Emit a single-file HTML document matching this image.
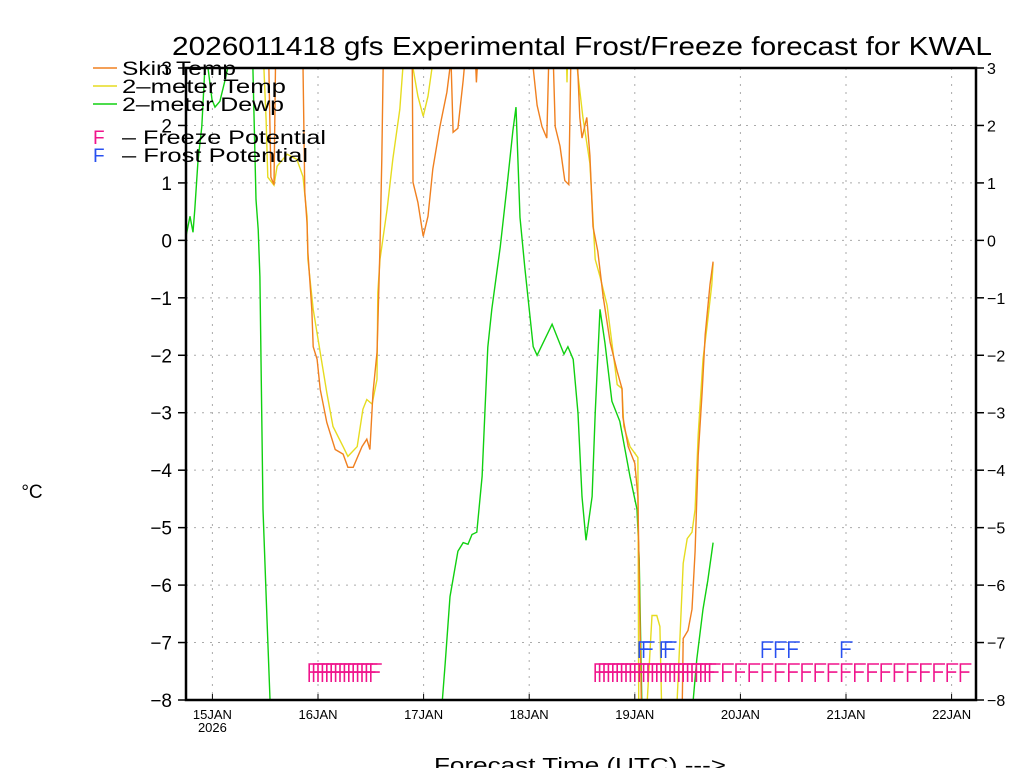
<!DOCTYPE html>
<html><head><meta charset="utf-8"><style>
html,body{margin:0;padding:0;background:#fff;width:1024px;height:768px;overflow:hidden}
svg{display:block;font-family:"Liberation Sans",sans-serif}
</style></head><body>
<svg id="chart" width="1024" height="768" viewBox="0 0 1024 768" xmlns="http://www.w3.org/2000/svg">
<defs><clipPath id="plotclip"><rect x="186" y="68" width="790" height="632"/></clipPath></defs>
<text x="172" y="55" font-size="26" textLength="820" lengthAdjust="spacingAndGlyphs" fill="#000">2026011418 gfs Experimental Frost/Freeze forecast for KWAL</text>
<g id="grid"></g>
<g id="series" clip-path="url(#plotclip)"></g>
<g id="flags"></g>
<g id="axes"></g>
<text x="32" y="498" font-size="19" text-anchor="middle">°C</text>
<text x="434" y="772" font-size="20" textLength="292" lengthAdjust="spacingAndGlyphs">Forecast Time (UTC) ---&gt;</text>
<g font-size="19">
<line x1="93" y1="68" x2="117" y2="68" stroke="#f08020" stroke-width="1.5"/>
<text x="122" y="75" textLength="114" lengthAdjust="spacingAndGlyphs">Skin Temp</text>
<line x1="93" y1="86" x2="117" y2="86" stroke="#e6dc20" stroke-width="1.5"/>
<text x="122" y="93" textLength="164" lengthAdjust="spacingAndGlyphs">2–meter Temp</text>
<line x1="93" y1="104" x2="117" y2="104" stroke="#10d010" stroke-width="1.5"/>
<text x="122" y="111" textLength="162" lengthAdjust="spacingAndGlyphs">2–meter Dewp</text>
<text x="93" y="144" fill="#f0148c">F</text>
<text x="122" y="144" textLength="204" lengthAdjust="spacingAndGlyphs">–  Freeze Potential</text>
<text x="93" y="162" fill="#2850f0">F</text>
<text x="122" y="162" textLength="186" lengthAdjust="spacingAndGlyphs">–  Frost Potential</text>
</g>
</svg>
<script>
const dayLabels = ["15JAN","16JAN","17JAN","18JAN","19JAN","20JAN","21JAN","22JAN"];
const dayHours = [6,30,54,78,102,126,150,174];
const yTicks = [3,2,1,0,-1,-2,-3,-4,-5,-6,-7,-8];
const skinHours = [0,18.6,19.3,20,20.5,26.4,27,27.5,27.7,28.6,28.9,29.8,30.5,32,33.9,35.7,36.8,38,40,41.1,41.8,42.5,43.4,43.6,44.1,44.5,45,50.9,51.4,51.6,52.7,53.9,55,56.1,57.7,59.3,60,60.2,60.7,61.8,63,63.6,65.7,66,66.4,78.4,78.9,79.8,80.9,82,82.5,83.4,83.9,85,86.1,87,87.5,88.9,89.5,90,91.1,91.8,92.5,93.6,94.8,96.4,98,99.1,99.3,100.5,102,102.7,103.2,103.6,112.7,113,114.1,115,115.7,116.4,117.3,118,119.1,119.8];
const skinVals = [4,4,1.10,0.97,4,4,0.84,0.31,-0.21,-1.20,-1.85,-2.07,-2.59,-3.17,-3.64,-3.72,-3.95,-3.95,-3.59,-3.46,-3.64,-2.65,-1.95,-1.50,-0.10,1.41,4,4,3.2,1.01,0.66,0.07,0.42,1.24,1.98,2.58,3.01,3.2,1.88,1.95,2.79,3.3,3.3,2.75,3.3,3.3,3.0,2.35,1.98,1.78,3.3,3.3,1.98,1.64,1.04,0.97,3.3,3.2,2.14,1.78,2.14,1.48,0.24,-0.19,-0.97,-1.78,-2.28,-2.58,-3.08,-3.59,-3.88,-4.46,-6.79,-8.5,-8.5,-6.93,-6.79,-6.42,-5.41,-3.74,-2.65,-1.64,-0.77,-0.37];
const t2mHours = [0,17.5,17.7,18.2,18.6,20,20.7,23,25.2,26.6,27.5,27.7,28.9,30.5,32,33.4,35.7,36.8,38.9,40.2,41.1,42.3,43.4,43.6,44.1,45.7,47,48.6,49.3,49.5,51.4,51.6,52.7,53.9,55,55.9,56.1,86.4,86.6,86.8,88.6,88.9,90.2,91.8,93,94.1,95.7,98,99.1,99.5,100.9,102.7,102.9,104.5,104.8,105.9,107,107.7,108.2,111.4,111.6,112.3,113,113.9,115,115.7,116.4,117.5,118.4,119.5,119.8];
const t2mVals = [4,4,3.0,2.1,1.10,0.96,1.29,1.50,1.41,1.11,0.42,-0.33,-1.20,-1.95,-2.65,-3.24,-3.59,-3.76,-3.59,-2.94,-2.77,-2.85,-2.42,-0.91,-0.33,0.54,1.41,2.28,3.01,3.4,3.4,3.0,2.51,2.16,2.51,3.0,3.4,3.4,2.75,3.4,3.4,3.0,2.14,1.34,-0.33,-0.63,-1.13,-2.51,-2.58,-3.24,-3.59,-3.78,-8.5,-8.5,-8.06,-6.53,-6.53,-6.72,-8.5,-8.5,-8.06,-6.86,-5.62,-5.19,-5.08,-4.68,-3.38,-2.07,-1.50,-0.77,-0.40];
const dewHours = [0,0.9,1.6,2,2.7,3.6,4.3,4.5,4.8,5,5.9,6.6,7.7,8.9,9.5,9.8,15,15.2,15.9,16.4,16.8,17.5,18.4,19.1,19.3,58,58.2,58.9,60,61.8,63,64.1,65,66.1,67.3,68,68.6,69.5,71.4,73,74.3,75,75.9,77,78.2,78.9,79.8,83.2,85.9,86.8,88,89.1,90,90.9,92.3,93,94.1,95.2,96.8,98.6,100.9,102.5,103,103.6,103.9,115,115.2,116.1,117.5,118.6,119.8];
const dewVals = [0.07,0.42,0.14,0.54,1.36,1.98,3.01,3.3,3.3,3.0,2.45,2.32,2.42,2.80,3.0,3.3,3.3,3.0,0.71,0.19,-0.63,-4.68,-6.60,-7.99,-8.5,-8.5,-8.06,-7.36,-6.20,-5.41,-5.26,-5.29,-5.12,-5.08,-4.11,-2.87,-1.86,-1.20,-0.12,0.97,1.91,2.32,0.40,-0.47,-1.34,-1.85,-2.00,-1.46,-1.98,-1.85,-2.07,-3.01,-4.46,-5.22,-4.46,-3.01,-1.20,-1.78,-2.80,-3.15,-4.11,-4.68,-5.55,-8.02,-8.5,-8.5,-8.06,-7.29,-6.42,-5.92,-5.26];
const freezeHours = [28,29,30,31,32,33,34,35,36,37,38,39,40,41,42,93,94,95,96,97,98,99,100,101,102,103,104,105,106,107,108,109,110,111,112,113,114,115,116,117,118,119,122,125,128,131,134,137,140,143,146,149,152,155,158,161,164,167,170,173,176];
const frostHours = [103,104,108,109,131,134,137,149];

const NS="http://www.w3.org/2000/svg";
const X0=186,X1=976,Y0=68,Y1=700,PXH=4.4;
function xs(h){return X0+h*PXH;}
function ys(v){return Y1-(v+8)*(Y1-Y0)/11;}
function mk(tag,attrs,parent){const e=document.createElementNS(NS,tag);for(const k in attrs)e.setAttribute(k,attrs[k]);parent.appendChild(e);return e;}
const grid=document.getElementById('grid'),axes=document.getElementById('axes'),series=document.getElementById('series'),flags=document.getElementById('flags');

yTicks.forEach(v=>{
  const y=ys(v);
  if(v>-8&&v<3){const g=mk('line',{x1:X0,x2:X1,y1:y,y2:y,stroke:'#aaa','stroke-width':1,'stroke-dasharray':'2,6'},grid);
  
  }
  const t1=mk('line',{x1:178,x2:X0,y1:y,y2:y,stroke:'#000','stroke-width':1.5},axes);
  
  
  const t2=mk('line',{x1:X1,x2:984,y1:y,y2:y,stroke:'#000','stroke-width':1.5},axes);
  
  
  const lbl=(v<0?'\u2212':'')+Math.abs(v);
  const l=mk('text',{x:172,y:y+7,'font-size':19,'text-anchor':'end'},axes);l.textContent=lbl;
  
  
  const r=mk('text',{x:987,y:y+6,'font-size':16},axes);r.textContent=lbl;
  
  
});
dayHours.forEach((h,i)=>{
  const x=xs(h);
  const g=mk('line',{x1:x,x2:x,y1:Y0,y2:Y1,stroke:'#aaa','stroke-width':1,'stroke-dasharray':'2,6'},grid);
  
  
  const t=mk('line',{x1:x,x2:x,y1:Y1-6,y2:Y1,stroke:'#000','stroke-width':1},axes);
  
  
  const l=mk('text',{x:x,y:719,'font-size':13,'text-anchor':'middle'},axes);l.textContent=dayLabels[i];
  
  
});
const yr=mk('text',{x:xs(dayHours[0]),y:732,'font-size':13,'text-anchor':'middle'},axes);yr.textContent='2026';


const frame=mk('path',{d:`M${X0},${Y0}V${Y1}H${X1}V${Y0}Z`,fill:'none',stroke:'#000','stroke-width':2.5},axes);



function line(hs,vs,color,name){
  const d=hs.map((h,i)=>(i?'L':'M')+xs(h).toFixed(1)+','+ys(vs[i]).toFixed(1)).join('');
  const p=mk('path',{d:d,fill:'none',stroke:color,'stroke-width':1.4},series);
  
  
}
line(dewHours,dewVals,'#10d010','dewpoint-line');
line(t2mHours,t2mVals,'#e6dc20','temp-2m-line');
line(skinHours,skinVals,'#f08020','skin-temp-line');

function drawF(h,yTop,h2,color,name){
  const x=xs(h);
  const g=mk('path',{d:`M${x},${yTop+h2}V${yTop}H${x+11}M${x},${yTop+h2*0.45}H${x+9}`,fill:'none',stroke:color,'stroke-width':1.6},flags);
  
  
}
freezeHours.forEach(h=>drawF(h,664,18,'#f0148c','freeze-flag'));
frostHours.forEach(h=>drawF(h,642,16,'#2850f0','frost-flag'));
</script>
</body></html>
